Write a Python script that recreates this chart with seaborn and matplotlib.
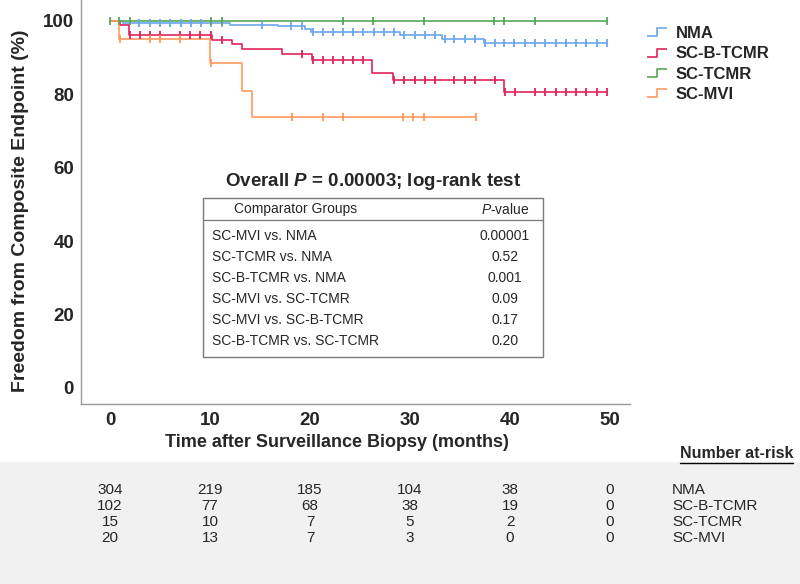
import numpy as np
import pandas as pd
import matplotlib
matplotlib.use("Agg")
import matplotlib.pyplot as plt
from matplotlib.lines import Line2D
from matplotlib.patches import Rectangle
from matplotlib.path import Path
from matplotlib import transforms
import seaborn as sns

## DATA (months, % free from composite endpoint)
groups = ["NMA", "SC-B-TCMR", "SC-TCMR", "SC-MVI"]
colors = ["#6aa6ea", "#e0245a", "#58a858", "#ff9a5e"]

nma_t = [0, 1.3, 12.0, 16.8, 19.5, 20.1, 29.0, 33.2, 37.4, 49.7]
nma_s = [100, 99.5, 98.9, 98.6, 97.7, 97.0, 96.2, 95.0, 93.9, 93.9]
nma_cens = [2.9, 4.0, 5.0, 6.0, 7.1, 8.1, 9.1, 10.1, 11.2, 15.2, 18.1, 19.2,
            20.3, 21.3, 22.3, 23.3, 24.3, 25.3, 26.4, 27.4, 28.4, 29.4, 30.5,
            31.5, 32.5, 33.5, 34.4, 35.5, 36.5, 37.5, 38.5, 39.4, 40.4, 41.5,
            42.5, 43.5, 44.6, 45.6, 46.6, 47.6, 48.7, 49.7]

sbt_t = [0, 1.0, 1.9, 10.2, 12.2, 13.2, 17.2, 20.2, 26.2, 28.3, 39.4, 49.7]
sbt_s = [100, 99.0, 96.1, 94.8, 93.7, 92.3, 91.0, 89.4, 85.9, 83.9, 80.7, 80.7]
sbt_cens = [2.0, 3.0, 4.0, 5.0, 7.0, 8.0, 9.0, 10.1, 11.2, 19.2, 20.3, 21.3,
            22.3, 23.3, 24.3, 25.3, 28.4, 29.4, 30.5, 31.5, 32.5, 34.4, 35.5,
            36.5, 38.5, 39.5, 40.5, 42.5, 43.5, 44.6, 45.6, 46.6, 47.6, 48.7,
            49.7]

tcmr_t = [0, 49.7]
tcmr_s = [100, 100]
tcmr_cens = [0.0, 0.9, 2.0, 10.1, 11.2, 23.3, 26.3, 31.4, 38.4, 39.4, 42.5, 49.7]

mvi_t = [0, 0.9, 10.0, 13.2, 14.2, 36.6]
mvi_s = [100, 95.0, 88.5, 81.0, 73.8, 73.8]
mvi_cens = [1.0, 4.0, 5.0, 7.0, 10.1, 18.2, 21.3, 23.3, 29.3, 30.3, 31.4, 36.6]

comparators = ["SC-MVI vs. NMA", "SC-TCMR vs. NMA", "SC-B-TCMR vs. NMA",
               "SC-MVI vs. SC-TCMR", "SC-MVI vs. SC-B-TCMR", "SC-B-TCMR vs. SC-TCMR"]
pvalues = ["0.00001", "0.52", "0.001", "0.09", "0.17", "0.20"]

risk_times = [0, 10, 20, 30, 40, 50]
risk_nma = [304, 219, 185, 104, 38, 0]
risk_sbt = [102, 77, 68, 38, 19, 0]
risk_tcmr = [15, 10, 7, 5, 2, 0]
risk_mvi = [20, 13, 7, 3, 0, 0]

## TABLES FOR SEABORN
curves = {"NMA": (nma_t, nma_s, nma_cens), "SC-B-TCMR": (sbt_t, sbt_s, sbt_cens),
          "SC-TCMR": (tcmr_t, tcmr_s, tcmr_cens), "SC-MVI": (mvi_t, mvi_s, mvi_cens)}
risk = {"NMA": risk_nma, "SC-B-TCMR": risk_sbt, "SC-TCMR": risk_tcmr, "SC-MVI": risk_mvi}

steps = []
marks = []
for g in groups:
    t, s, c = curves[g]
    for ti, si in zip(t, s):
        steps.append({"group": g, "month": ti, "surv": si})
    idx = np.searchsorted(t, c, side="right") - 1
    for ci, k in zip(c, idx):
        marks.append({"group": g, "month": ci, "surv": s[k]})
steps = pd.DataFrame(steps)
marks = pd.DataFrame(marks)
palette = dict(zip(groups, colors))

sns.set_theme(style="white")
plt.rcParams["font.family"] = ["Liberation Sans", "DejaVu Sans"]
plt.rcParams["mathtext.fontset"] = "custom"
plt.rcParams["mathtext.rm"] = "Liberation Sans"
plt.rcParams["mathtext.it"] = "Liberation Sans:italic"
plt.rcParams["mathtext.bf"] = "Liberation Sans:bold"
plt.rcParams["mathtext.bfit"] = "Liberation Sans:italic:bold"

W, H = 800, 584
fig = plt.figure(figsize=(8, 5.84), dpi=100)
fig.patches.append(Rectangle((0, 0), 1, (H - 462) / H, transform=fig.transFigure,
                             facecolor="#f1f1f1", edgecolor="none", zorder=0))
ax = fig.add_axes([81 / W, 1 - 404 / H, (630 - 81) / W, 404 / H])
ax.patch.set_alpha(0)

sns.lineplot(data=steps, x="month", y="surv", hue="group", palette=palette,
             estimator=None, sort=False, drawstyle="steps-post", linewidth=1.2,
             legend=False, ax=ax)
sns.scatterplot(data=marks, x="month", y="surv", hue="group", palette=palette,
                marker="|", s=30, linewidth=1.3, legend=False, ax=ax, zorder=3)

ax.set_xlim(-2.9, 52.0)
ax.set_ylim(-4.4, 105.7)
ax.set_xticks(risk_times)
ax.set_yticks([0, 20, 40, 60, 80, 100])
ax.tick_params(length=0, labelsize=13.5)
ax.tick_params(axis="x", pad=6)
ax.tick_params(axis="y", pad=5)
for lab in ax.get_xticklabels() + ax.get_yticklabels():
    lab.set_fontweight("bold")
sns.despine(ax=ax)
for sp in ["left", "bottom"]:
    ax.spines[sp].set_color("#9a9a9a")
    ax.spines[sp].set_linewidth(1.0)

ax.set_xlabel("Time after Surveillance Biopsy (months)", fontsize=13, fontweight="bold")
ax.set_ylabel("Freedom from Composite Endpoint (%)", fontsize=14, fontweight="bold")
ax.xaxis.set_label_coords((337 - 81) / 549, -(434 - 404) / 404)
ax.yaxis.set_label_coords(-(81 - 29) / 549, (404 - 211) / 404)

## LEGEND with step-shaped handles
step_path = Path([(-1, -0.4), (0, -0.4), (0, 0.4), (1, 0.4)],
                 [Path.MOVETO, Path.LINETO, Path.LINETO, Path.LINETO])
handles = [Line2D([0], [0], marker=step_path, linestyle="none", markersize=15,
                  markeredgecolor=c, markerfacecolor="none", markeredgewidth=1.2)
           for c in colors]
fig.legend(handles, groups, loc="upper left", bbox_to_anchor=(645 / W, 1 - 26 / H),
           frameon=False, borderpad=0, borderaxespad=0, handlelength=1.4,
           handletextpad=0.45, labelspacing=0.32,
           prop={"weight": "bold", "size": 12})

## LOG-RANK INSET
def fy(y):
    return 1 - y / H

fig.text(373 / W, fy(182), r"Overall $\mathbfit{P}$ = 0.00003; log-rank test",
         ha="center", va="center", fontsize=13.5, fontweight="bold")
fig.patches.append(Rectangle((203 / W, fy(357)), (543 - 203) / W, (357 - 198) / H,
                             transform=fig.transFigure, facecolor="white",
                             edgecolor="#7a7a7a", linewidth=1.0, zorder=1))
fig.lines.append(Line2D([203 / W, 543 / W], [fy(220), fy(220)], transform=fig.transFigure,
                        color="#7a7a7a", linewidth=0.9))
fig.text(296 / W, fy(209), "Comparator Groups", ha="center", va="center", fontsize=10)
fig.text(505 / W, fy(209), r"$\mathit{P}$-value", ha="center", va="center", fontsize=10)
for i, (cmp_, pv) in enumerate(zip(comparators, pvalues)):
    y = fy(236 + i * 21)
    fig.text(212 / W, y, cmp_, ha="left", va="center", fontsize=10)
    fig.text(505 / W, y, pv, ha="center", va="center", fontsize=10)

## NUMBER AT RISK
trans = transforms.blended_transform_factory(ax.transData, fig.transFigure)
nar = fig.text(793 / W, fy(454), "Number at-risk", ha="right", va="center",
               fontsize=11.5, fontweight="bold")
row_y = [490, 506, 522, 538]
for g, ry in zip(groups, row_y):
    for t, n in zip(risk_times, risk[g]):
        fig.text(t, fy(ry), str(n), transform=trans, ha="center", va="center", fontsize=11)
    fig.text(672 / W, fy(ry), g, ha="left", va="center", fontsize=11)

fig.canvas.draw()
bb = nar.get_window_extent().transformed(fig.transFigure.inverted())
fig.lines.append(Line2D([bb.x0, bb.x1], [bb.y0 - 1.5 / H, bb.y0 - 1.5 / H],
                        transform=fig.transFigure, color="black", linewidth=1.0))

fig.savefig("out.png", dpi=100)
